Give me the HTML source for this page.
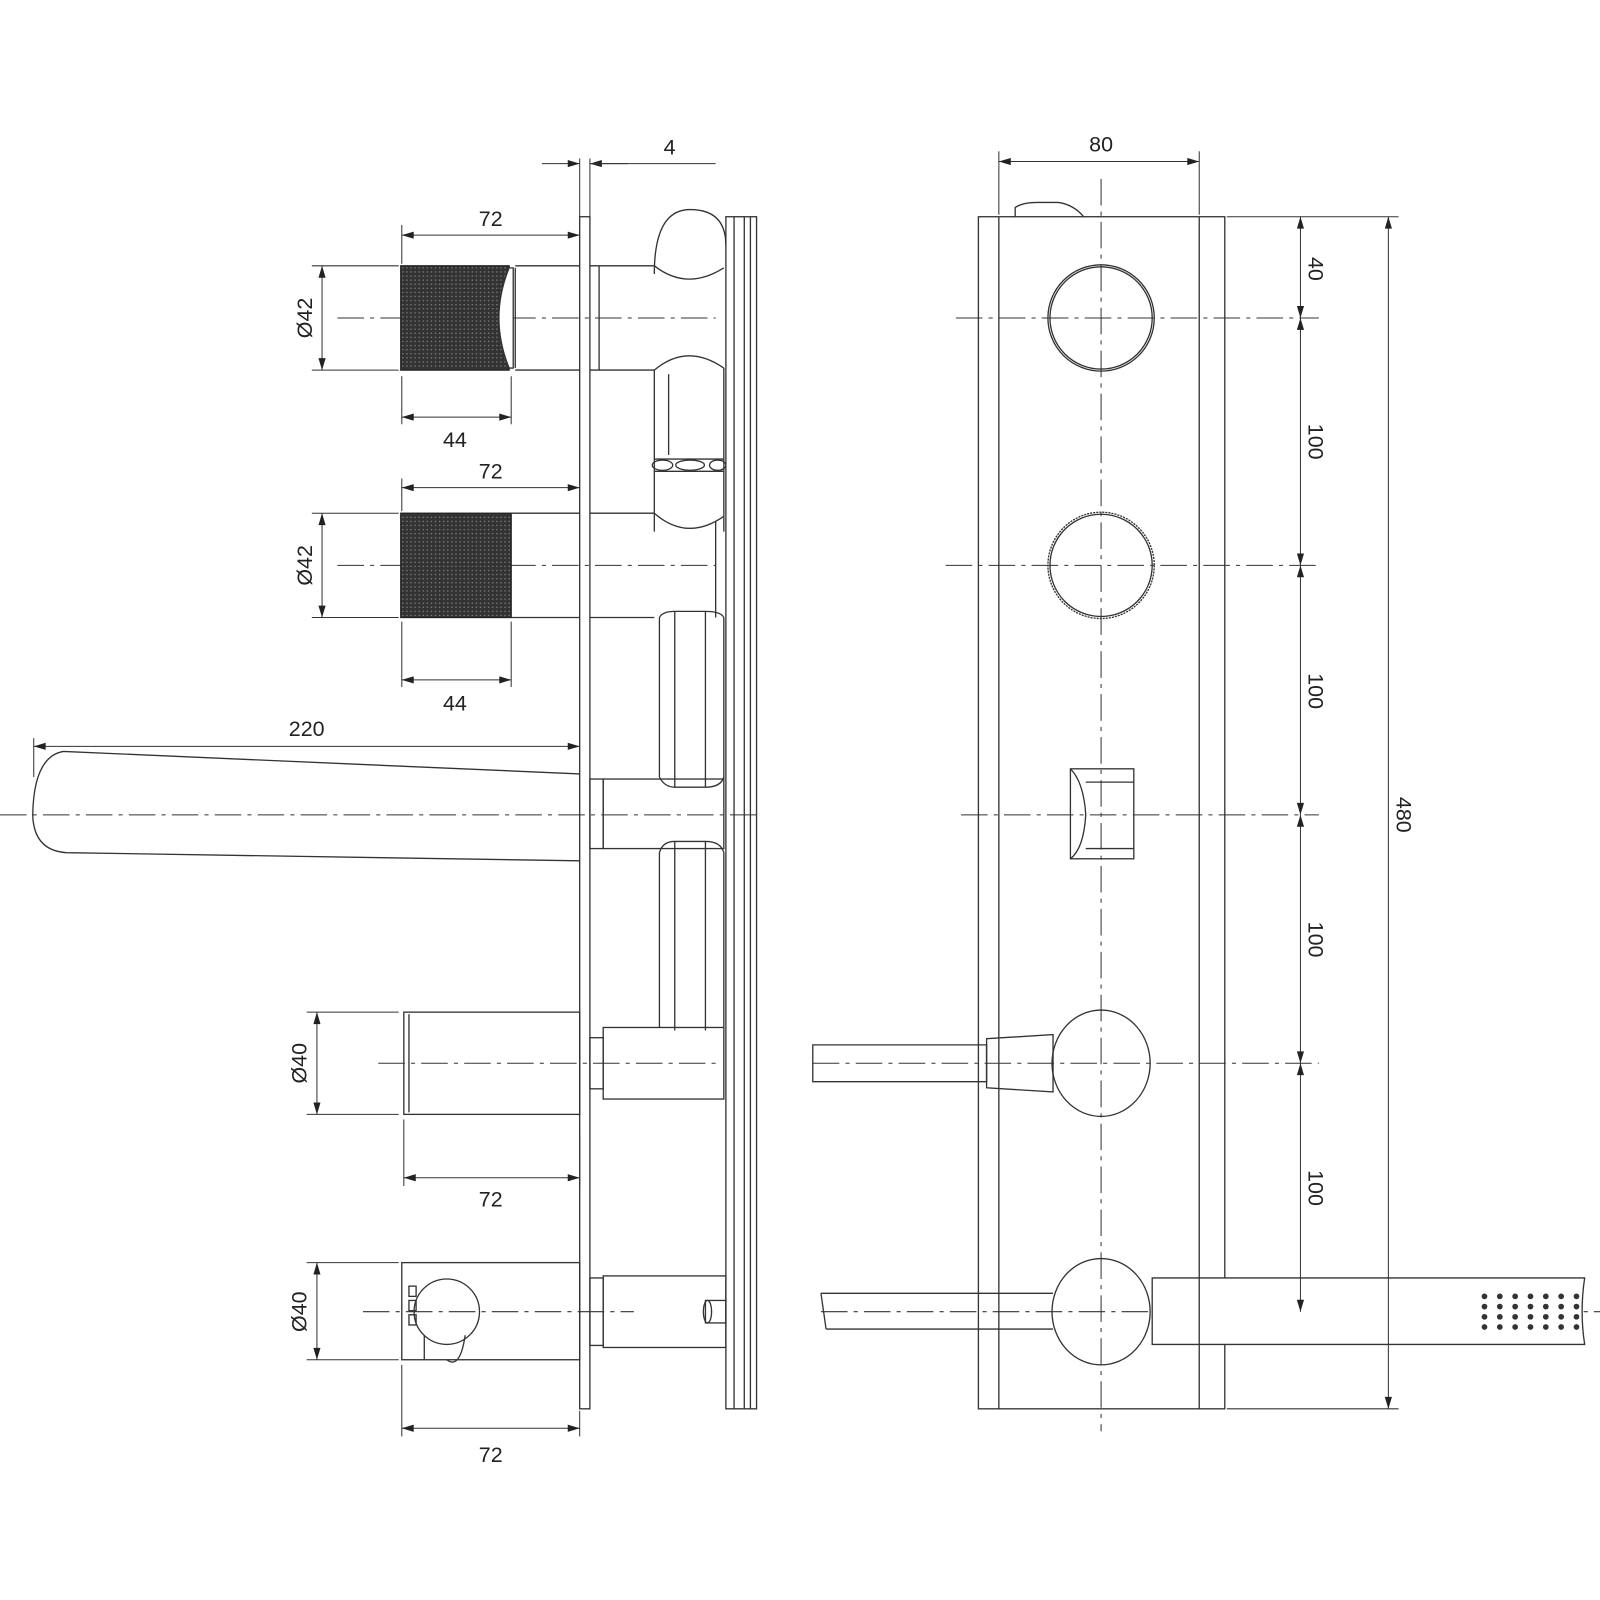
<!DOCTYPE html>
<html><head><meta charset="utf-8"><style>
html,body{margin:0;padding:0;background:#fff}
svg{display:block}
text{font-family:"Liberation Sans",sans-serif;font-size:21px;fill:#222}
</style></head><body>
<svg width="1600" height="1600" viewBox="0 0 1565 1565" xmlns="http://www.w3.org/2000/svg">
<defs>
<marker id="a" viewBox="0 0 10 6" refX="10" refY="3" markerWidth="18" markerHeight="7" markerUnits="userSpaceOnUse" orient="auto-start-reverse"><path d="M0,0L10,3L0,6z" fill="#222"/></marker>
<pattern id="k" width="4" height="4" patternUnits="userSpaceOnUse"><rect width="4" height="4" fill="#333"/><circle cx="2" cy="2" r="0.8" fill="#777"/></pattern>
</defs>
<g fill="none" stroke="#333" stroke-width="1.3">
<!-- centerlines -->
<g stroke-dasharray="26,6,4,6" stroke-width="1">
<line x1="330" y1="311" x2="700" y2="311"/>
<line x1="330" y1="553" x2="700" y2="553"/>
<line x1="0" y1="797" x2="740" y2="797"/>
<line x1="370" y1="1040" x2="700" y2="1040"/>
<line x1="355" y1="1283" x2="620" y2="1283"/>
<line x1="1077" y1="175" x2="1077" y2="1400"/>
<line x1="935" y1="311" x2="1290" y2="311"/>
<line x1="925" y1="553" x2="1290" y2="553"/>
<line x1="940" y1="797" x2="1290" y2="797"/>
<line x1="795" y1="1040" x2="1290" y2="1040"/>
<line x1="803" y1="1283" x2="1565" y2="1283"/>
</g>
<!-- LEFT VIEW -->
<rect x="567" y="212" width="10" height="1166"/>
<rect x="710" y="212" width="30" height="1166"/>
<line x1="718" y1="212" x2="718" y2="1378"/><line x1="728" y1="212" x2="728" y2="1378"/><line x1="734" y1="212" x2="734" y2="1378"/>
<!-- row1 -->
<rect x="392" y="260" width="106" height="102" fill="url(#k)" stroke="#222"/>
<path d="M498,262 Q478,311 498,360 L502,360 L502,262z" fill="#fff"/>
<line x1="504" y1="260" x2="567" y2="260"/><line x1="504" y1="362" x2="567" y2="362"/><line x1="504" y1="262" x2="504" y2="360"/>
<line x1="577" y1="260" x2="640" y2="260"/><line x1="577" y1="362" x2="640" y2="362"/><line x1="586" y1="260" x2="586" y2="362"/>
<path d="M640,260 Q672,285 708,262"/><path d="M640,268 Q640,205 675,205 Q710,205 710,240"/>
<path d="M640,362 Q672,335 708,360"/>
<line x1="654" y1="366" x2="654" y2="445"/><line x1="708" y1="360" x2="708" y2="520"/><line x1="640" y1="362" x2="640" y2="520"/>
<ellipse cx="648" cy="455" rx="10" ry="5"/><ellipse cx="675" cy="455" rx="14" ry="5"/><ellipse cx="702" cy="455" rx="8" ry="5"/>
<line x1="640" y1="449" x2="708" y2="449"/><line x1="640" y1="461" x2="708" y2="461"/>
<!-- row2 -->
<rect x="392" y="502" width="108" height="102" fill="url(#k)" stroke="#222"/>
<line x1="500" y1="502" x2="567" y2="502"/><line x1="500" y1="604" x2="567" y2="604"/>
<line x1="577" y1="502" x2="640" y2="502"/><line x1="577" y1="604" x2="640" y2="604"/>
<path d="M640,502 Q672,530 708,505"/><line x1="700" y1="510" x2="700" y2="604"/>
<path d="M645,604 Q648,598 660,598 L690,598 Q705,598 708,604"/>
<line x1="645" y1="604" x2="645" y2="760"/><line x1="660" y1="598" x2="660" y2="770"/><line x1="690" y1="598" x2="690" y2="770"/><line x1="708" y1="604" x2="708" y2="762"/>
<path d="M645,760 Q650,770 660,770 L690,770 Q705,770 708,760"/>
<!-- spout -->
<path d="M567,757 L62,735 Q33,740 32,797 Q33,832 65,834 L567,842"/>
<rect x="577" y="762" width="13" height="68"/>
<rect x="590" y="762" width="118" height="68"/>
<path d="M645,834 Q648,823 660,823 L690,823 Q705,823 708,834"/>
<line x1="645" y1="834" x2="645" y2="1005"/><line x1="660" y1="823" x2="660" y2="1008"/><line x1="690" y1="823" x2="690" y2="1008"/><line x1="708" y1="834" x2="708" y2="1005"/>
<!-- row4 -->
<rect x="395" y="990" width="172" height="100"/><line x1="400" y1="992" x2="400" y2="1088"/>
<rect x="577" y="1015" width="13" height="50"/>
<rect x="590" y="1005" width="118" height="70"/>
<!-- row5 -->
<rect x="393" y="1235" width="174" height="95"/>
<circle cx="437" cy="1283" r="32"/>
<path d="M415,1306 L415,1330 M455,1306 Q450,1340 437,1330"/>
<rect x="400" y="1258" width="7" height="10"/><rect x="400" y="1272" width="7" height="10"/><rect x="400" y="1286" width="7" height="10"/>
<rect x="577" y="1250" width="13" height="66"/>
<rect x="590" y="1248" width="120" height="70"/>
<rect x="690" y="1272" width="20" height="22"/><ellipse cx="692" cy="1283" rx="4" ry="11"/>
<!-- RIGHT VIEW -->
<rect x="957" y="212" width="241" height="1166"/>
<line x1="977" y1="212" x2="977" y2="1378"/><line x1="1173" y1="212" x2="1173" y2="1378"/>
<path d="M993,212 L993,203 Q1000,198 1015,198 L1035,198 Q1050,200 1060,212"/>
<circle cx="1077" cy="311" r="52"/><circle cx="1077" cy="311" r="50"/>
<circle cx="1077" cy="553" r="52" stroke-dasharray="2,1"/><circle cx="1077" cy="553" r="50"/>
<rect x="1047" y="752" width="62" height="88"/>
<path d="M1047,752 Q1060,765 1062,797 Q1060,830 1047,840 M1062,765 L1109,765 M1062,830 L1109,830"/>
<ellipse cx="1077" cy="1040" rx="48" ry="52"/>
<path d="M795,1022 L965,1022 L965,1058 L795,1058z"/>
<path d="M965,1016 L1030,1012 L1030,1068 L965,1064z"/>
<ellipse cx="1077" cy="1283" rx="48" ry="52"/>
<path d="M803,1265 L1030,1265 M808,1300 L1030,1300 M803,1265 L808,1300"/>
<path d="M1127,1250 L1550,1250 Q1545,1283 1550,1315 L1127,1315z" fill="#fff"/>
<line x1="1173" y1="1250" x2="1173" y2="1315"/>
<!-- dims -->
<g stroke-width="1">
<line x1="567" y1="155" x2="567" y2="212"/><line x1="577" y1="155" x2="577" y2="212"/>
<line x1="530" y1="160" x2="567" y2="160" marker-end="url(#a)"/><line x1="614" y1="160" x2="577" y2="160" marker-end="url(#a)"/><line x1="577" y1="160" x2="700" y2="160"/>
<line x1="393" y1="220" x2="393" y2="258"/>
<line x1="393" y1="230" x2="567" y2="230" marker-start="url(#a)" marker-end="url(#a)"/>
<line x1="305" y1="260" x2="390" y2="260"/><line x1="305" y1="362" x2="390" y2="362"/>
<line x1="315" y1="260" x2="315" y2="362" marker-start="url(#a)" marker-end="url(#a)"/>
<line x1="393" y1="368" x2="393" y2="415"/><line x1="500" y1="368" x2="500" y2="415"/>
<line x1="393" y1="408" x2="500" y2="408" marker-start="url(#a)" marker-end="url(#a)"/>
<line x1="393" y1="468" x2="393" y2="500"/>
<line x1="393" y1="477" x2="567" y2="477" marker-start="url(#a)" marker-end="url(#a)"/>
<line x1="305" y1="502" x2="390" y2="502"/><line x1="305" y1="604" x2="390" y2="604"/>
<line x1="315" y1="502" x2="315" y2="604" marker-start="url(#a)" marker-end="url(#a)"/>
<line x1="393" y1="608" x2="393" y2="672"/><line x1="500" y1="608" x2="500" y2="672"/>
<line x1="393" y1="665" x2="500" y2="665" marker-start="url(#a)" marker-end="url(#a)"/>
<line x1="33" y1="722" x2="33" y2="760"/>
<line x1="33" y1="730" x2="567" y2="730" marker-start="url(#a)" marker-end="url(#a)"/>
<line x1="300" y1="990" x2="390" y2="990"/><line x1="300" y1="1090" x2="390" y2="1090"/>
<line x1="310" y1="990" x2="310" y2="1090" marker-start="url(#a)" marker-end="url(#a)"/>
<line x1="395" y1="1095" x2="395" y2="1160"/><line x1="567" y1="1110" x2="567" y2="1160"/>
<line x1="395" y1="1152" x2="567" y2="1152" marker-start="url(#a)" marker-end="url(#a)"/>
<line x1="300" y1="1235" x2="390" y2="1235"/><line x1="300" y1="1330" x2="390" y2="1330"/>
<line x1="310" y1="1235" x2="310" y2="1330" marker-start="url(#a)" marker-end="url(#a)"/>
<line x1="393" y1="1335" x2="393" y2="1405"/><line x1="567" y1="1380" x2="567" y2="1405"/>
<line x1="393" y1="1397" x2="567" y2="1397" marker-start="url(#a)" marker-end="url(#a)"/>
<line x1="977" y1="148" x2="977" y2="210"/><line x1="1173" y1="148" x2="1173" y2="210"/>
<line x1="977" y1="158" x2="1173" y2="158" marker-start="url(#a)" marker-end="url(#a)"/>
<line x1="1200" y1="212" x2="1368" y2="212"/><line x1="1200" y1="1378" x2="1368" y2="1378"/>
<line x1="1358" y1="212" x2="1358" y2="1378" marker-start="url(#a)" marker-end="url(#a)"/>
<line x1="1272" y1="212" x2="1272" y2="311" marker-start="url(#a)" marker-end="url(#a)"/>
<line x1="1272" y1="311" x2="1272" y2="553" marker-start="url(#a)" marker-end="url(#a)"/>
<line x1="1272" y1="553" x2="1272" y2="797" marker-start="url(#a)" marker-end="url(#a)"/>
<line x1="1272" y1="797" x2="1272" y2="1040" marker-start="url(#a)" marker-end="url(#a)"/>
<line x1="1272" y1="1040" x2="1272" y2="1283" marker-start="url(#a)" marker-end="url(#a)"/>
</g>
</g>
<g fill="#333">
<g id="d"><circle cx="1452" cy="1268" r="2.8"/><circle cx="1467" cy="1268" r="2.8"/><circle cx="1482" cy="1268" r="2.8"/><circle cx="1497" cy="1268" r="2.8"/><circle cx="1512" cy="1268" r="2.8"/><circle cx="1527" cy="1268" r="2.8"/><circle cx="1542" cy="1268" r="2.8"/></g>
<use href="#d" y="10"/><use href="#d" y="20"/><use href="#d" y="30"/>
</g>
<text x="655" y="151" text-anchor="middle">4</text>
<text x="480" y="221" text-anchor="middle">72</text>
<text x="445" y="437" text-anchor="middle">44</text>
<text x="480" y="468" text-anchor="middle">72</text>
<text x="445" y="695" text-anchor="middle">44</text>
<text x="300" y="720" text-anchor="middle">220</text>
<text x="480" y="1180" text-anchor="middle">72</text>
<text x="480" y="1430" text-anchor="middle">72</text>
<text x="1077" y="148" text-anchor="middle">80</text>
<text transform="translate(305,311) rotate(-90)" text-anchor="middle">Ø42</text>
<text transform="translate(305,553) rotate(-90)" text-anchor="middle">Ø42</text>
<text transform="translate(300,1040) rotate(-90)" text-anchor="middle">Ø40</text>
<text transform="translate(300,1283) rotate(-90)" text-anchor="middle">Ø40</text>
<text transform="translate(1280,263) rotate(90)" text-anchor="middle">40</text>
<text transform="translate(1280,432) rotate(90)" text-anchor="middle">100</text>
<text transform="translate(1280,676) rotate(90)" text-anchor="middle">100</text>
<text transform="translate(1280,919) rotate(90)" text-anchor="middle">100</text>
<text transform="translate(1280,1162) rotate(90)" text-anchor="middle">100</text>
<text transform="translate(1366,797) rotate(90)" text-anchor="middle">480</text>
</svg>
</body></html>
